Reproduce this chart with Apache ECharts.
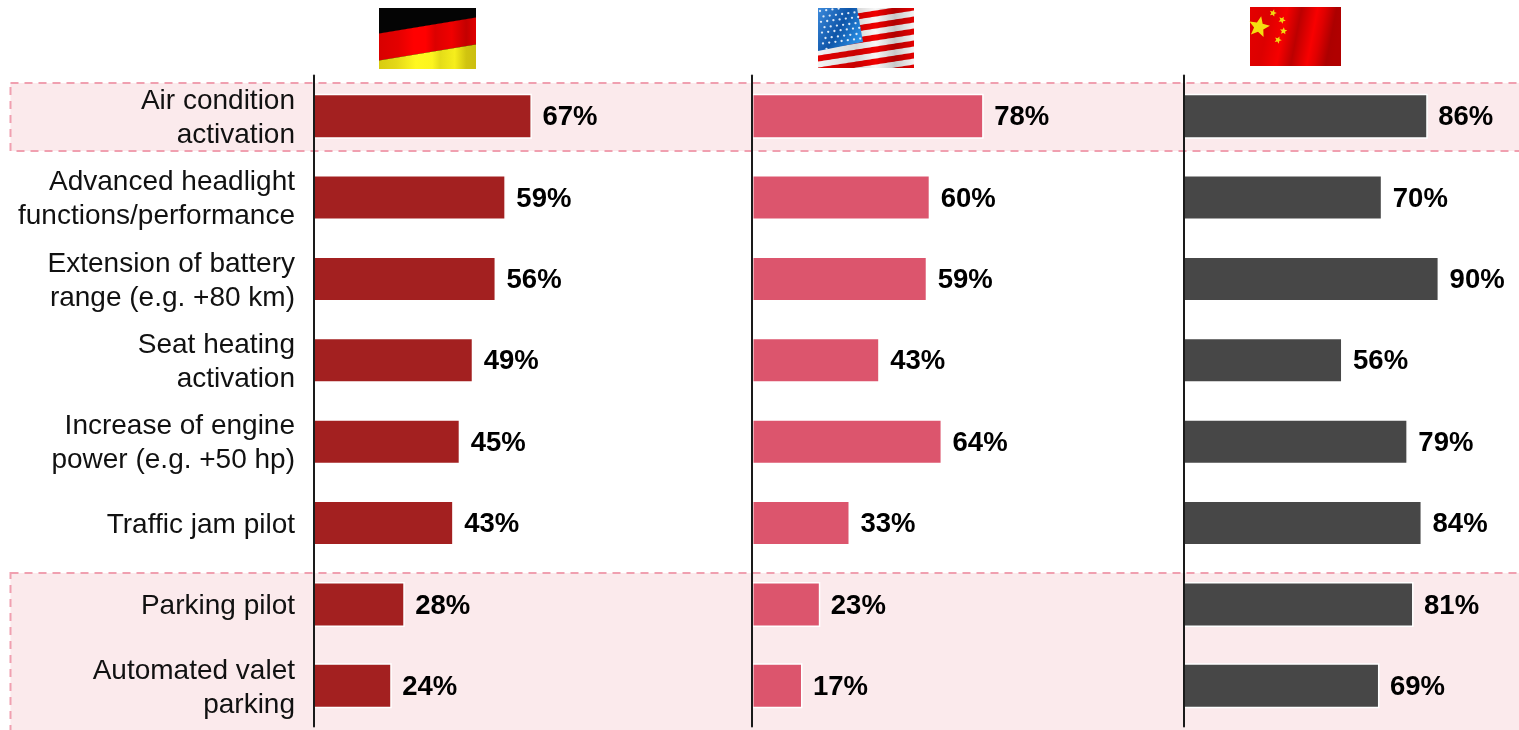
<!DOCTYPE html>
<html>
<head>
<meta charset="utf-8">
<style>html,body{margin:0;padding:0;background:#fff}#c{width:1519px;height:730px}</style>
<script src="https://cdn.jsdelivr.net/npm/echarts@6/dist/echarts.min.js"></script>
</head>
<body>
<div id="c"></div>
<script>
const categories = [
  'Air condition\nactivation',
  'Advanced headlight\nfunctions/performance',
  'Extension of battery\nrange (e.g. +80 km)',
  'Seat heating\nactivation',
  'Increase of engine\npower (e.g. +50 hp)',
  'Traffic jam pilot',
  'Parking pilot',
  'Automated valet\nparking'
];
const germany = [67, 59, 56, 49, 45, 43, 28, 24];
const usa = [78, 60, 59, 43, 64, 33, 23, 17];
const china = [86, 70, 90, 56, 79, 84, 81, 69];

const FONT = '"Liberation Sans", Arial, sans-serif';
const panels = [
  {data: germany, color: '#A32020', left: 313.5, width: 326, max: 100},
  {data: usa, color: '#DC556D', left: 752, width: 297, max: 100},
  {data: china, color: '#474747', left: 1183.5, width: 284, max: 100}
];

const grid = [], xAxis = [], yAxis = [], series = [];
panels.forEach((p, i) => {
  grid.push({left: p.left, top: 75.5, width: p.width, height: 651, containLabel: false});
  xAxis.push({gridIndex: i, type: 'value', min: 0, max: p.max, show: false});
  yAxis.push({
    gridIndex: i, type: 'category', inverse: true, data: categories, z: 6,
    axisTick: {show: false},
    axisLine: {show: true, lineStyle: {color: '#1a1a1a', width: 2}},
    axisLabel: {show: false}
  });
  series.push({
    type: 'bar', xAxisIndex: i, yAxisIndex: i, data: p.data, barWidth: 45, z: 3,
    itemStyle: {color: p.color, borderColor: '#fff', borderWidth: 1.5},
    label: {
      show: true, position: 'right', distance: 10.5, offset: [0, 1.5], formatter: '{c}%',
      color: '#000', fontFamily: FONT, fontWeight: 'bold', fontSize: 27.5
    },
    emphasis: {disabled: true}
  });
});
// Label-only axis, sitting slightly lower than the bars as in the reference.
grid.push({left: 313.5, top: 77.5, width: 326, height: 651, containLabel: false});
xAxis.push({gridIndex: 3, type: 'value', min: 0, max: 100, show: false});
yAxis.push({
  gridIndex: 3, type: 'category', inverse: true, data: categories,
  axisTick: {show: false}, axisLine: {show: false},
  axisLabel: {show: true, color: '#111', fontFamily: FONT, fontSize: 28, lineHeight: 34, align: 'right', margin: 18.5}
});

const band = (x, y, w, h) => ({
  type: 'rect', z: -10, silent: true,
  shape: {x, y, width: w, height: h},
  style: {fill: '#FBEAEC', stroke: '#F0A0B0', lineWidth: 2, lineDash: [8, 6]}
});

const hGrad = (stops) => ({type: 'linear', x: 0, y: 0, x2: 1, y2: 0,
  colorStops: stops.map(([offset, color]) => ({offset, color}))});

function rect(x, y, w, h, fill) {
  return {type: 'rect', silent: true, z: 1, shape: {x, y, width: w, height: h}, style: {fill}};
}
// Slanted stripe clipped to a flag rectangle.
function stripe(f, y0, y1, slope, fill) {
  const top = [], bot = [], n = 48;
  const clamp = v => Math.max(f.y, Math.min(f.y + f.h, v));
  for (let k = 0; k <= n; k++) {
    const x = f.x + f.w * k / n, dx = x - f.x;
    top.push([x, clamp(y0 + slope * dx)]);
    bot.unshift([x, clamp(y1 + slope * dx)]);
  }
  return {type: 'polygon', silent: true, z: 2, shape: {points: top.concat(bot)}, style: {fill}};
}
function star(cx, cy, r, rot, fill) {
  const pts = [];
  for (let k = 0; k < 10; k++) {
    const a = rot + k * Math.PI / 5 - Math.PI / 2, q = k % 2 ? r * 0.45 : r;
    pts.push([cx + q * Math.cos(a), cy + q * Math.sin(a)]);
  }
  return {type: 'polygon', silent: true, z: 4, shape: {points: pts}, style: {fill}};
}

function germanFlag() {
  const f = {x: 379, y: 8, w: 97, h: 61}, s = -0.165;
  return [
    rect(f.x, f.y, f.w, f.h, '#040404'),
    stripe(f, 33.5, 60.5, s, hGrad([[0, '#D80000'], [0.2, '#E40000'], [0.36, '#FF0000'], [0.48, '#FF0000'], [0.58, '#DC0000'], [0.75, '#F00000'], [0.9, '#C40000'], [1, '#E00000']])),
    stripe(f, 60.5, 90, s, hGrad([[0, '#D8CC10'], [0.18, '#E4D818'], [0.38, '#FFF820'], [0.55, '#FCF41E'], [0.63, '#E4DC18'], [0.78, '#F6EE1C'], [0.9, '#D0C410'], [1, '#CCBE10']]))
  ];
}
function usFlag() {
  const f = {x: 818, y: 8, w: 96, h: 60}, s = -0.156;
  const out = [rect(f.x, f.y, f.w, f.h, hGrad([[0, '#F4F4F4'], [0.4, '#D6D6D6'], [0.6, '#F8F8F8'], [0.8, '#C8C8C8'], [1, '#F4F4F4']]))];
  const red = hGrad([[0, '#E40000'], [0.4, '#C80000'], [0.6, '#F00000'], [0.8, '#B00000'], [1, '#E40000']]);
  [10.5, 22.5, 34.5, 46.5, 58.5, 70.5, 82.5].forEach(y => out.push(stripe(f, y - 3, y + 3, s, red)));
  out.push({type: 'polygon', silent: true, z: 3,
    shape: {points: [[818, 8], [857, 8], [863, 42], [818, 51]]},
    style: {fill: {type: 'linear', x: 0, y: 0, x2: 1, y2: 0.6, colorStops: [
      {offset: 0, color: '#3C8ADC'}, {offset: 0.55, color: '#0E55A8'}, {offset: 1, color: '#2A90E6'}]}}});
  for (let r = 0; r < 8; r++) for (let c = 0; c < 7; c++) {
    const x = 820 + c * 6.2 + (r % 2) * 3 + r * 0.5, y = 11 + r * 5.4 - c * 0.8;
    if (x < 859 + r * 0.5 && y > 8.5 && y < 49 - c) out.push({type: 'circle', silent: true, z: 4, shape: {cx: x, cy: y, r: 1.15}, style: {fill: '#DCE9F8'}});
  }
  return out;
}
function chinaFlag() {
  const f = {x: 1250, y: 7, w: 91, h: 59};
  return [
    rect(f.x, f.y, f.w, f.h, {type: 'linear', x: 0, y: 0, x2: 1, y2: 0.3, colorStops: [
      {offset: 0, color: '#E40000'}, {offset: 0.22, color: '#DC0000'}, {offset: 0.4, color: '#F60000'}, {offset: 0.55, color: '#BC0000'}, {offset: 0.72, color: '#F80000'},
      {offset: 0.8, color: '#E00000'}, {offset: 0.92, color: '#AC0000'}, {offset: 1, color: '#B00000'}]}),
    star(1259, 27, 11, 0.2, '#F4DE10'),
    star(1273, 13, 3.8, 0.3, '#F0D810'),
    star(1282, 20, 3.8, 0.5, '#F0D810'),
    star(1283.5, 31, 3.8, 0.1, '#F0D810'),
    star(1278, 40, 3.8, 0.4, '#F0D810')
  ];
}

const chart = echarts.init(document.getElementById('c'), null, {renderer: 'canvas'});
chart.setOption({
  animation: false,
  backgroundColor: '#fff',
  grid, xAxis, yAxis, series,
  tooltip: {show: false},
  graphic: {elements: [
    band(10.5, 83, 1520, 68),
    band(10.5, 573, 1520, 170)
  ].concat(germanFlag(), usFlag(), chinaFlag())}
});
</script>
</body>
</html>
